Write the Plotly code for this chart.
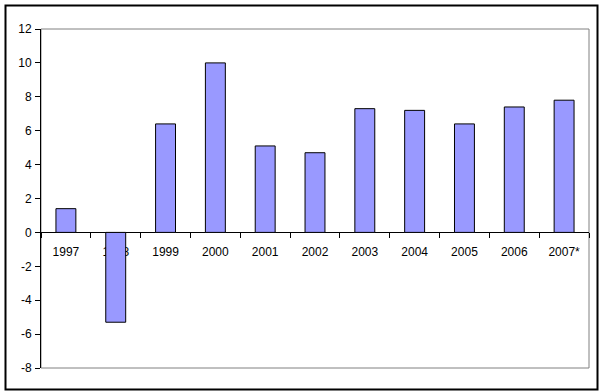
import plotly.graph_objects as go

years = ["1997", "1998", "1999", "2000", "2001", "2002", "2003", "2004", "2005", "2006", "2007*"]
values = [1.4, -5.3, 6.4, 10.0, 5.1, 4.7, 7.3, 7.2, 6.4, 7.4, 7.8]
y_ticks = [-8, -6, -4, -2, 0, 2, 4, 6, 8, 10, 12]
y_tick_labels = ["-8", "-6", "-4", "-2", "0", "2", "4", "6", "8", "10", "12"]

W, H = 606, 392
ml, mr, mt, mb = 41, 17, 29, 24
pw, ph = W - ml - mr, H - mt - mb

def px_x(x):
    return (x - ml) / pw

def px_y(y):
    return (H - mb - y) / ph

fig = go.Figure(go.Bar(
    x=years, y=values,
    marker=dict(color="#9999FF", line=dict(color="black", width=1)),
    width=0.4,
))

fig.update_layout(
    width=W, height=H,
    margin=dict(l=ml, r=mr, t=mt, b=mb, autoexpand=False),
    paper_bgcolor="white", plot_bgcolor="white",
    font=dict(family="Liberation Sans, Arial, sans-serif", size=12, color="black"),
    showlegend=False,
    shapes=[
        dict(type="rect", xref="paper", yref="paper", x0=0, x1=1, y0=0, y1=1,
             line=dict(color="#808080", width=1), layer="below"),
        dict(type="rect", xref="paper", yref="paper",
             x0=px_x(5.5), x1=px_x(597.5), y0=px_y(5.5), y1=px_y(389.5),
             line=dict(color="black", width=2)),
    ],
)

fig.update_xaxes(
    type="category", anchor="free", position=0.4, automargin=False,
    showline=True, linecolor="black", linewidth=1, layer="below traces",
    ticks="outside", tickson="boundaries", ticklen=5, tickcolor="black",
    showgrid=False, zeroline=False, ticklabelstandoff=8,
)
fig.update_yaxes(
    range=[-8, 12], tickvals=y_ticks, ticktext=y_tick_labels, automargin=False,
    showline=True, linecolor="black", linewidth=1,
    ticks="outside", ticklen=5, tickcolor="black",
    showgrid=False, zeroline=False, ticklabelstandoff=1,
)

fig.write_html(
    "out.html",
    config={"displayModeBar": False},
    post_script="document.body.style.margin='0';document.body.style.overflow='hidden';",
)
